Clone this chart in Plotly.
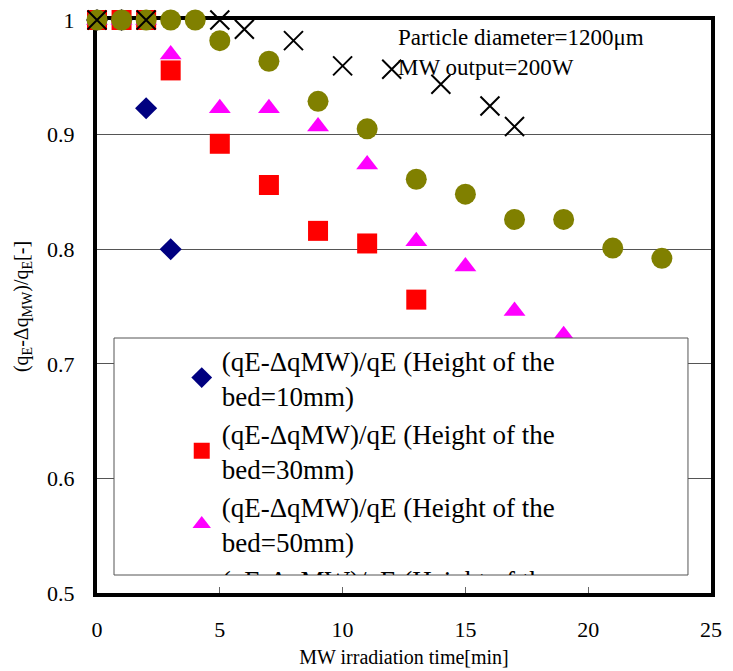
import plotly.graph_objects as go

# ---- data ----
x_10 = [0, 1, 2, 3]
y_10 = [1.0, 1.0, 0.923, 0.800]

x_30 = [0, 1, 2, 3, 5, 7, 9, 11, 13]
y_30 = [1.0, 1.0, 1.0, 0.956, 0.892, 0.856, 0.816, 0.805, 0.756]

x_50 = [0, 1, 2, 3, 5, 7, 9, 11, 13, 15, 17, 19]
y_50 = [1.0, 1.0, 1.0, 0.970, 0.923, 0.923, 0.907, 0.874, 0.807, 0.785, 0.746, 0.725]

x_70 = [0, 1, 2, 3, 4, 5, 7, 9, 11, 13, 15, 17, 19, 21, 23]
y_70 = [1.0, 1.0, 1.0, 1.0, 1.0, 0.982, 0.964, 0.929, 0.905, 0.861, 0.848, 0.826, 0.826, 0.801, 0.792]

x_100 = [0, 2, 5, 6, 8, 10, 12, 14, 16, 17]
y_100 = [1.0, 1.0, 1.0, 0.992, 0.982, 0.960, 0.957, 0.944, 0.925, 0.907]

names = [
    "(qE-ΔqMW)/qE (Height of the<br>bed=10mm)",
    "(qE-ΔqMW)/qE (Height of the<br>bed=30mm)",
    "(qE-ΔqMW)/qE (Height of the<br>bed=50mm)",
    "(qE-ΔqMW)/qE (Height of the<br>bed=70mm)",
    "(qE-ΔqMW)/qE (Height of the<br>bed=100mm)",
]

x_ticks = [0, 5, 10, 15, 20, 25]
y_ticks = [0.5, 0.6, 0.7, 0.8, 0.9, 1.0]

FONT = "Liberation Serif"

fig = go.Figure()

fig.add_trace(go.Scatter(x=x_10, y=y_10, mode="markers", name=names[0],
                         marker=dict(symbol="diamond", size=17, color="#000080"),
                         cliponaxis=False))
fig.add_trace(go.Scatter(x=x_30, y=y_30, mode="markers", name=names[1],
                         marker=dict(symbol="square", size=20, color="#FF0000"),
                         cliponaxis=False))
fig.add_trace(go.Scatter(x=x_50, y=y_50, mode="markers", name=names[2],
                         marker=dict(symbol="triangle-up", size=19, color="#FF00FF"),
                         cliponaxis=False))
fig.add_trace(go.Scatter(x=x_70, y=y_70, mode="markers", name=names[3],
                         marker=dict(symbol="circle", size=21, color="#808000"),
                         cliponaxis=False))
fig.add_trace(go.Scatter(x=x_100, y=y_100, mode="markers", name=names[4],
                         marker=dict(symbol="x-thin", size=19, color="#000000",
                                     line=dict(color="#000000", width=2)),
                         cliponaxis=False))

# legend box (white, thin grey border) drawn above the markers
fig.add_shape(type="rect", xref="paper", yref="paper",
              x0=0.0277, x1=0.9625, y0=0.0314, y1=0.445,
              fillcolor="white", line=dict(color="#555555", width=1), layer="above")

fig.add_annotation(xref="paper", yref="paper", x=0.487, y=0.995,
                   xanchor="left", yanchor="top", align="left", showarrow=False,
                   text="Particle diameter=1200μm<br>MW output=200W",
                   font=dict(family=FONT, size=23, color="black"))

fig.update_layout(
    width=733, height=671,
    margin=dict(l=97, r=22, t=20, b=78),
    paper_bgcolor="white", plot_bgcolor="white",
    font=dict(family=FONT, color="black"),
    showlegend=True,
    legend=dict(x=0.138, y=0.4485, xanchor="left", yanchor="top",
                bgcolor="rgba(0,0,0,0)", borderwidth=0,
                font=dict(family=FONT, size=27, color="black"),
                maxheight=239),
    xaxis=dict(range=[0, 25], tickvals=x_ticks, ticks="inside", ticklen=6,
               tickcolor="#666666", tickwidth=1,
               showgrid=False, zeroline=False, automargin=False,
               showline=True, linewidth=4, linecolor="black", mirror=True,
               layer="below traces",
               tickfont=dict(family=FONT, size=22), ticklabelstandoff=14,
               title=dict(text="MW irradiation time[min]",
                          font=dict(family=FONT, size=20), standoff=10)),
    yaxis=dict(range=[0.5, 1.0], tickvals=y_ticks, ticks="",
               showgrid=True, gridcolor="#555555", gridwidth=1,
               zeroline=False, automargin=False,
               showline=True, linewidth=4, linecolor="black", mirror=True,
               layer="below traces",
               tickfont=dict(family=FONT, size=22), ticklabelstandoff=14,
               title=dict(text="(q<sub>E</sub>-Δq<sub>MW</sub>)/q<sub>E</sub>[-]",
                          font=dict(family=FONT, size=20), standoff=14)),
)

hide_scrollbar = (
    "function hideSB(){document.querySelectorAll('.legend .scrollbar')"
    ".forEach(function(e){e.setAttribute('display','none');e.style.display='none';});}"
    "hideSB(); setTimeout(hideSB, 0); setTimeout(hideSB, 200);"
)

fig.write_html("out.html", post_script=hide_scrollbar)
